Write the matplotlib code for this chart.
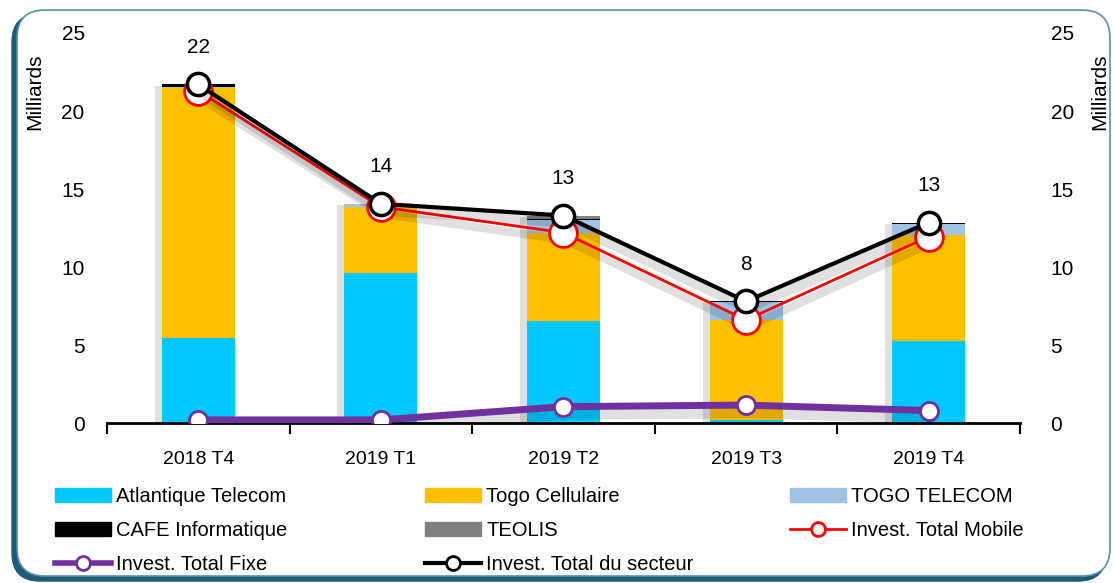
import numpy as np
import matplotlib.pyplot as plt
import matplotlib.patheffects as pe
from matplotlib.patches import FancyBboxPatch, Patch
from matplotlib.lines import Line2D

# data (milliards)
quarters = ['2018 T4', '2019 T1', '2019 T2', '2019 T3', '2019 T4']
atlantique = [5.45, 9.6, 6.55, 0.2, 5.25]
togo_cell = [16.0, 4.25, 5.65, 6.4, 6.8]
togo_tel = [0.1, 0.2, 0.8, 1.15, 0.7]
cafe = [0.15, 0.0, 0.05, 0.05, 0.05]
teolis = [0.0, 0.0, 0.25, 0.0, 0.05]
total_mobile = [21.3, 13.85, 12.2, 6.6, 11.95]
total_fixe = [0.2, 0.2, 1.05, 1.15, 0.8]
total_secteur = [21.7, 14.05, 13.3, 7.8, 12.85]

plt.rcParams['font.family'] = ['Liberation Sans', 'DejaVu Sans']

fig = plt.figure(figsize=(11.14, 5.83), dpi=100)
asp = 11.14 / 5.83
# rounded frame with dark shadow on left / bottom
back = FancyBboxPatch((0.0108, 0.0034), 0.982, 0.9726, boxstyle='round,pad=0,rounding_size=0.025',
                      mutation_aspect=asp, transform=fig.transFigure, facecolor='#1f5a78',
                      edgecolor='#1f5a78', lw=1, zorder=-11)
front = FancyBboxPatch((0.0153, 0.012), 0.9811, 0.9708, boxstyle='round,pad=0,rounding_size=0.025',
                       mutation_aspect=asp, transform=fig.transFigure, facecolor='white',
                       edgecolor='#5b8fad', lw=1.2, zorder=-10)
fig.patches.extend([back, front])

ax = fig.add_axes([0.096, 0.2744, 0.8196, 0.669])
ax.set_facecolor('none')
x = np.arange(len(quarters))
w = 0.4

series = [(atlantique, '#00c8ff', 'Atlantique Telecom'),
          (togo_cell, '#ffc000', 'Togo Cellulaire'),
          (togo_tel, '#9dc3e6', 'TOGO TELECOM'),
          (cafe, '#000000', 'CAFE Informatique'),
          (teolis, '#808080', 'TEOLIS')]
bottom = np.zeros(len(quarters))
for vals, col, lab in series:
    ax.bar(x, vals, w, bottom=bottom, color=col, zorder=2)
    bottom += np.array(vals)
# soft shadow behind the stacks
ax.bar(x, bottom, w, color='none', zorder=1,
       path_effects=[pe.SimplePatchShadow(offset=(-5, -1), shadow_rgbFace='#000000', alpha=0.12)])

lines = [(total_fixe, '#7030a0', 5, 13, 2, 4),
         (total_mobile, '#ff0000', 2, 20, 2, 5),
         (total_secteur, '#000000', 3, 16, 2.5, 6)]
for vals, col, lw, ms, mew, z in lines:
    shad = [pe.SimpleLineShadow(offset=(1, -5), alpha=0.12, linewidth=lw + 4), pe.Normal()]
    ax.plot(x, vals, color=col, lw=lw, zorder=z, path_effects=shad)
    ax.plot(x, vals, ls='none', marker='o', ms=ms, mfc='white', mec=col, mew=mew, zorder=z + 0.5)

for xi, v in zip(x, total_secteur):
    ax.annotate(f'{v:.0f}', (xi, v), xytext=(0, 20), textcoords='offset points',
                ha='center', va='bottom', fontsize=15)

ax.set_xlim(-0.5, 4.5)
ax.set_ylim(0, 25)
ax.set_yticks(range(0, 26, 5))
ax.tick_params(axis='y', length=0, pad=16, labelsize=15)
ax.set_xticks(np.arange(-0.5, 5, 1))
ax.set_xticklabels([])
ax.tick_params(axis='x', which='major', length=8, width=1.5, direction='out')
ax.set_xticks(x, minor=True)
ax.set_xticklabels(quarters, minor=True, fontsize=14)
ax.tick_params(axis='x', which='minor', length=0, pad=20)
for s in ['top', 'left', 'right']:
    ax.spines[s].set_visible(False)
ax.spines['bottom'].set_linewidth(2)
ax.set_ylabel('Milliards', fontsize=15)
ax.yaxis.set_label_coords(-0.069, 0.849)

ax2 = ax.twinx()
ax2.set_ylim(0, 25)
ax2.set_yticks(range(0, 26, 5))
ax2.tick_params(axis='y', length=0, pad=22, labelsize=15)
for s in ['top', 'left', 'right', 'bottom']:
    ax2.spines[s].set_visible(False)
ax2.set_ylabel('Milliards', fontsize=15, rotation=90)
ax2.yaxis.set_label_coords(1.077, 0.849)

bar_h = [Patch(color=c, label=l) for _, c, l in series]
line_h = [Line2D([], [], color=col, lw=min(lw, 4), marker='o', ms=10, mfc='white', mec=col, mew=2,
                 label=lab)
          for (_, col, lw, _, _, _), lab in zip(lines, ['Invest. Total Fixe', 'Invest. Total Mobile',
                                                       'Invest. Total du secteur'])]
cols = [[bar_h[0], bar_h[3], line_h[0]],
        [bar_h[1], bar_h[4], line_h[2]],
        [bar_h[2], line_h[1]]]
for hs, xpos in zip(cols, [55, 425, 790]):
    leg = fig.legend(handles=hs, loc='upper left', bbox_to_anchor=(xpos / 1114, 0.165),
                     frameon=False, fontsize=14.5, handlelength=2.8, handleheight=0.7,
                     handletextpad=0.25, labelspacing=0.75, borderpad=0, borderaxespad=0)

fig.savefig('out.png', dpi=100)
